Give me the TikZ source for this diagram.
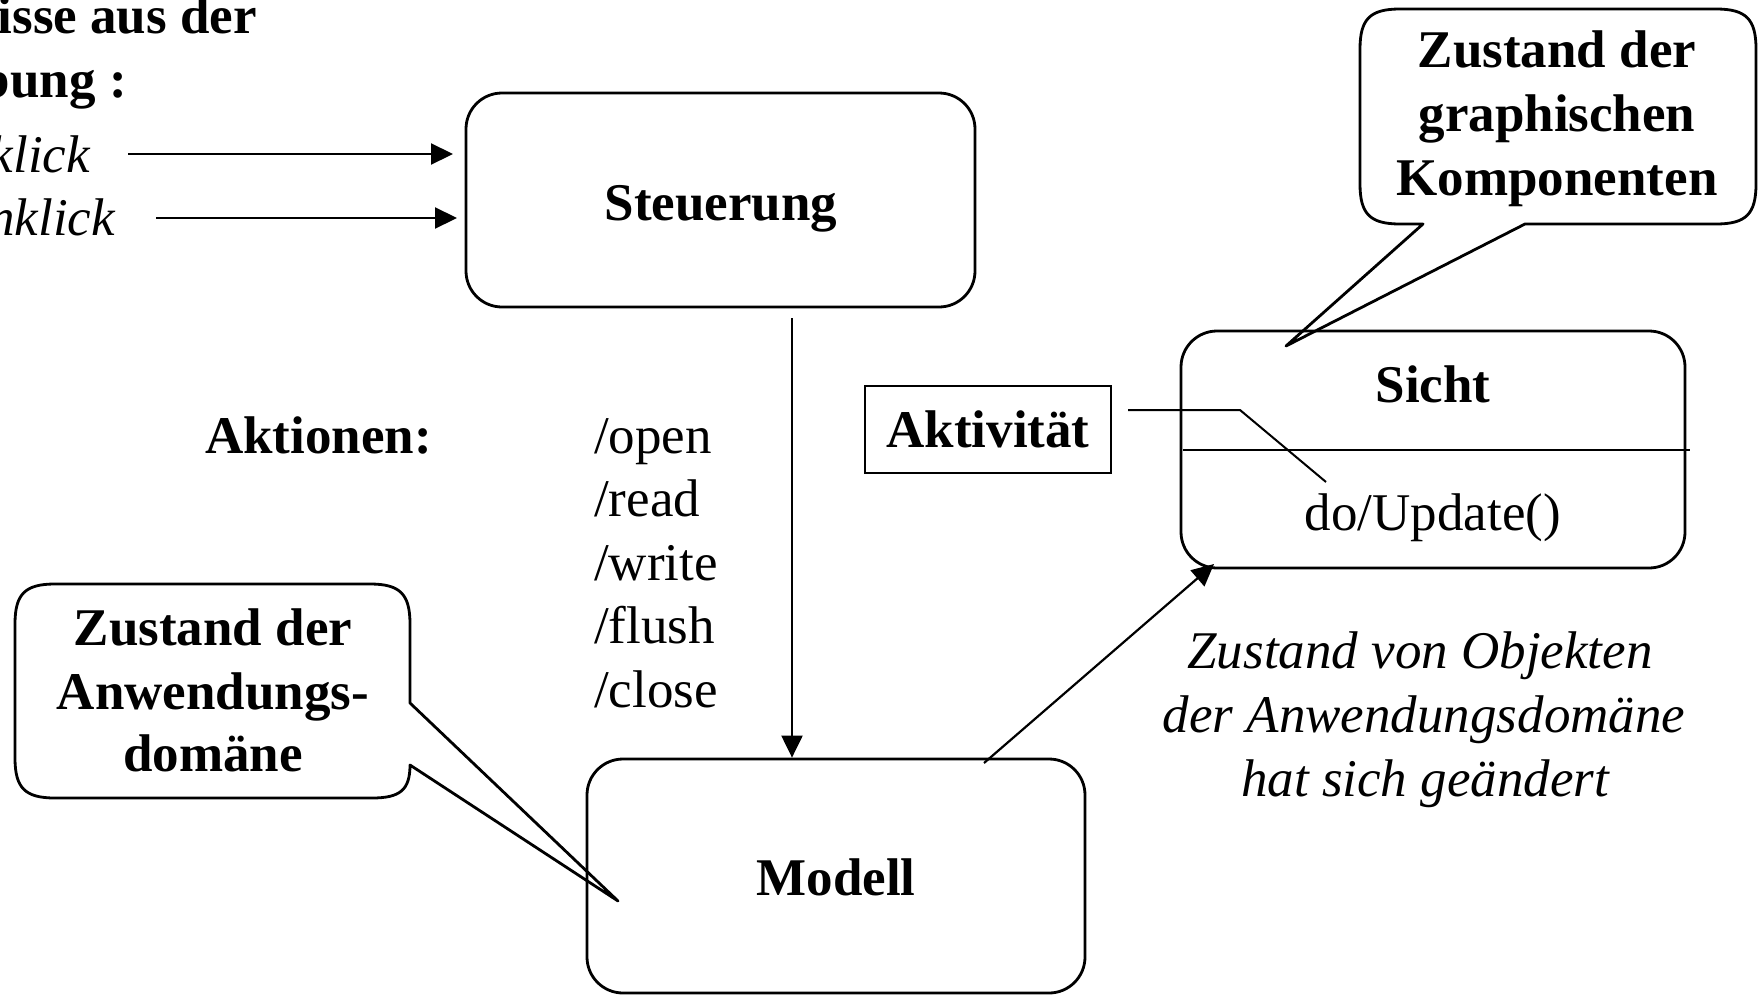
\documentclass[tikz,border=0pt]{standalone}
\usepackage{fontspec}
\setmainfont{Liberation Serif}
\usetikzlibrary{arrows.meta}
\begin{document}
\begin{tikzpicture}[x=1pt,y=-1pt,
  txt/.style={inner sep=0pt, font=\fontsize{53}{63.6}\selectfont},
  btxt/.style={inner sep=0pt, font=\fontsize{53}{63.6}\selectfont\bfseries},
  itxt/.style={inner sep=0pt, font=\fontsize{53}{63.6}\selectfont\itshape},
  statebox/.style={draw, line width=2.8pt, rounded corners=36pt, inner sep=0pt},
  arr/.style={line width=2.2pt, -{Triangle[length=22pt,width=21pt]}},
  thinline/.style={line width=2pt},
  callout/.style={draw, line width=2.8pt, line join=round}]
\useasboundingbox (0,0) rectangle (1758,996);
\clip (0,0) rectangle (1758,996);

% top-left (cut) texts
\node[btxt, anchor=base east] (ev1) at (257,33) {isse aus der};
\node[btxt, anchor=base east] (ev2) at (127,97) {bung :};
\node[itxt, anchor=base east] (ev3) at (90,172) {klick};
\node[itxt, anchor=base east] (ev4) at (115,235) {nklick};

% state boxes
\node[statebox, minimum width=509pt, minimum height=214pt] (steuer) at (720.5,200) {};
\node[btxt, anchor=base] (steuerT) at (721,220) {Steuerung};
\node[statebox, minimum width=504pt, minimum height=237pt] (sicht) at (1433,449.5) {};
\node[btxt, anchor=base] (sichtT) at (1433,402) {Sicht};
\node[txt, anchor=base] (upd) at (1433,530) {do/Update()};
\node[statebox, minimum width=498pt, minimum height=234pt] (modell) at (836,876) {};
\node[btxt, anchor=base] (modellT) at (836,895) {Modell};
\node[btxt, draw, line width=2.2pt, minimum width=246pt, minimum height=87pt] (akt) at (988,429.5) {Aktivität};

% divider in Sicht
\coordinate (divL) at (1183,450);
\coordinate (divR) at (1690,450);
\draw[thinline] (divL) -- (divR);

% event arrows
\coordinate (e1) at (128,154); \coordinate (e1t) at (453,154);
\coordinate (e2) at (156,218); \coordinate (e2t) at (457,218);
\draw[arr] (e1) -- (e1t);
\draw[arr] (e2) -- (e2t);

% Steuerung -> Modell
\coordinate (c1) at (792,318);
\draw[arr] (c1) -- (c1 |- modell.north);

% Modell -> Sicht
\coordinate (m1) at (984,763);
\coordinate (s1) at (1214,564);
\draw[arr] (m1) -- (s1);

% Aktivitaet connector
\coordinate (k1) at (1128,410);
\coordinate (k2) at (1240,410);
\coordinate (k3) at (1326,482);
\draw[thinline] (k1) -- (k2) -- (k3);

% Aktionen
\node[btxt, anchor=base west] (aktionen) at (205,453) {Aktionen:};
\node[txt, anchor=base west] (a1) at (594,453) {/open};
\node[txt, anchor=base west] (a2) at (594,516.6) {/read};
\node[txt, anchor=base west] (a3) at (594,580.2) {/write};
\node[txt, anchor=base west] (a4) at (594,643.8) {/flush};
\node[txt, anchor=base west] (a5) at (594,707.4) {/close};

% italic note
\node[itxt, anchor=base] (n1) at (1420,668) {Zustand von Objekten};
\node[itxt, anchor=base] (n2) at (1424,732) {der Anwendungsdomäne};
\node[itxt, anchor=base] (n3) at (1425,796) {hat sich geändert};

% callout top right
\draw[callout] (1423,224) -- (1286,346) -- (1525,224) -- (1716,224)
  .. controls (1746,224) and (1756,214) .. (1756,184) -- (1756,49)
  .. controls (1756,19) and (1746,9) .. (1716,9) -- (1400,9)
  .. controls (1370,9) and (1360,19) .. (1360,49) -- (1360,184)
  .. controls (1360,214) and (1370,224) .. (1400,224) -- cycle;
\node[btxt, anchor=base] (tr1) at (1557,67) {Zustand der};
\node[btxt, anchor=base] (tr2) at (1557,131) {graphischen};
\node[btxt, anchor=base] (tr3) at (1557,195) {Komponenten};

% callout bottom left
\draw[callout] (410,703) -- (618,901) -- (410,765)
  .. controls (410,790) and (400,798) .. (372,798) -- (55,798)
  .. controls (25,798) and (15,788) .. (15,758) -- (15,624)
  .. controls (15,594) and (25,584) .. (55,584) -- (370,584)
  .. controls (400,584) and (410,594) .. (410,624) -- cycle;
\node[btxt, anchor=base] (bl1) at (213,645) {Zustand der};
\node[btxt, anchor=base] (bl2) at (213,709) {Anwendungs-};
\node[btxt, anchor=base] (bl3) at (213,771) {domäne};
\end{tikzpicture}
\end{document}
